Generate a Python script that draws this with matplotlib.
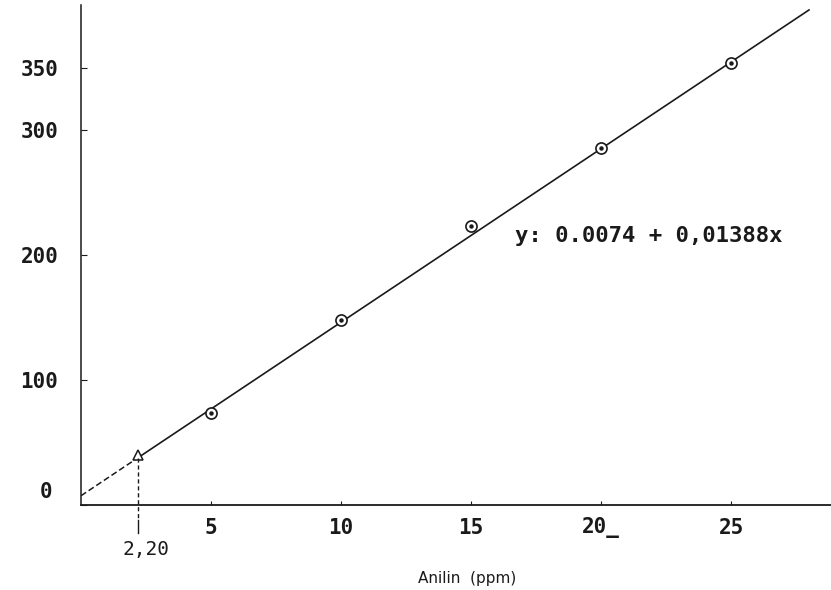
import numpy as np
import matplotlib.pyplot as plt
from matplotlib.transforms import ScaledTranslation

# Calibration data: aniline concentration vs. absorbance (x1000)
conc = [5, 10, 15, 20, 25]
absorb = [73.6, 148, 223, 286, 353.6]

# Sample reading
sample_x = 2.2
sample_label = "2,20"

# Fitted line y = a + b*x (absorbance x1000)
intercept = 7.4
slope = 13.88
eq_text = "y: 0.0074 + 0,01388x"

xticks = [5, 10, 15, 20, 25]
xticklabels = ["5", "10", "15", "20_", "25"]
yticks = [0, 100, 200, 300, 350]
yticklabels = ["0", "100", "200", "300", "350"]

ink = "#1a1a1a"
mono = "DejaVu Sans Mono"

fig = plt.figure(figsize=(8.31, 5.90), dpi=100)
ax = fig.add_axes([81 / 831, 1 - 505 / 590, 750 / 831, 500 / 590])
ax.set_xlim(0, 750 / 26)
ax.set_ylim(0, 400)

# fit line: dashed up to the sample reading, solid afterwards
xa = np.array([0, sample_x])
ax.plot(xa, intercept + slope * xa, color=ink, lw=1.1, ls=(0, (4, 2)))
xb = np.array([sample_x, 28.0])
ax.plot(xb, intercept + slope * xb, color=ink, lw=1.2)

# standards
ax.plot(conc, absorb, ls="none", marker="o", ms=8, mfc="white", mec=ink, mew=1.2)
ax.plot(conc, absorb, ls="none", marker="o", ms=2.2, color=ink)

# sample triangle and drop line
sample_y = intercept + slope * sample_x
ax.plot([sample_x], [sample_y + 2], ls="none", marker="^", ms=7, mfc="white", mec=ink, mew=1.1)
ax.plot([sample_x, sample_x], [sample_y, -12], color=ink, lw=1.0, ls=(0, (3, 2)), clip_on=False)
ax.plot([sample_x, sample_x], [-12, -22], color=ink, lw=1.0, clip_on=False)
ax.text(sample_x + 0.3, -36, sample_label, ha="center", va="center", fontsize=14,
        family=mono, color=ink)

ax.text(16.7, 215, eq_text, ha="left", va="center", fontsize=16, family=mono,
        weight="bold", color=ink)

# axes look
for s in ["top", "right"]:
    ax.spines[s].set_visible(False)
ax.spines["left"].set_linestyle((0, (6, 1, 1, 1)))
ax.spines["left"].set_linewidth(1.1)
ax.spines["left"].set_color(ink)
ax.spines["bottom"].set_linewidth(1.3)
ax.spines["bottom"].set_color(ink)

ax.set_xticks(xticks)
ax.set_xticklabels(xticklabels, family=mono, fontsize=15, weight="bold", color=ink)
ax.set_yticks(yticks)
ax.set_yticklabels(yticklabels, family=mono, fontsize=15, weight="bold", color=ink)
ax.tick_params(axis="x", direction="in", length=3, pad=9, color=ink)
ax.tick_params(axis="y", direction="in", length=4, pad=30, color=ink)
for lbl in ax.get_yticklabels():
    lbl.set_horizontalalignment("center")
# the zero label sits above the axis line
zero = ax.get_yticklabels()[0]
zero.set_transform(zero.get_transform() + ScaledTranslation(5 / 72, 11 / 72, fig.dpi_scale_trans))

ax.set_xlabel("Anilin  (ppm)", fontsize=11, color=ink)
ax.xaxis.set_label_coords((467 - 81) / 750, -66 / 500)

fig.savefig("out.png", dpi=100)
